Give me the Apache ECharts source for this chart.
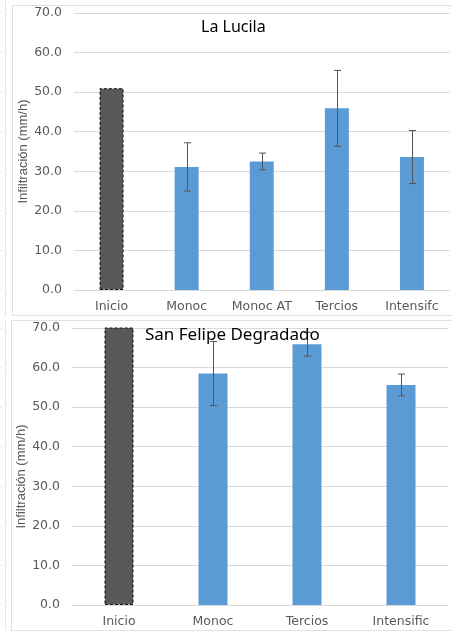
<!DOCTYPE html>
<html>
<head>
<meta charset="utf-8">
<script src="https://cdn.jsdelivr.net/npm/echarts@6/dist/echarts.min.js"></script>
<style>
  html, body { margin: 0; padding: 0; background: #fff; }
  #chart { width: 452px; height: 634px; }
</style>
</head>
<body>
<div id="chart"></div>
<script>
// La Lucila
const categoriesA = ['Inicio', 'Monoc', 'Monoc AT', 'Tercios', 'Intensifc'];
const valuesA = [51.0, 31.1, 32.5, 45.9, 33.6];
const errorsA = [null, 6.1, 2.1, 9.6, 6.7];

// San Felipe Degradado
const categoriesB = ['Inicio', 'Monoc', 'Tercios', 'Intensific'];
const valuesB = [75.0, 58.5, 65.9, 55.6];
const errorsB = [null, 8.1, 3.0, 2.75];

const yMin = 0, yMax = 70, yStep = 10;
const titles = ['La Lucila', 'San Felipe Degradado'];
const yName = 'Infiltración (mm/h)';

const BLUE = '#5B9BD5';
const DARK = '#595959';
const GRID = '#D9D9D9';
const TXT = '#595959';
const FONT = 'DejaVu Sans';

function barData(values) {
  return values.map((v, i) => i === 0
    ? { value: v, itemStyle: { color: DARK, borderColor: '#111', borderType: [3, 2], borderWidth: 1 } }
    : v);
}

function errData(values, errors) {
  const out = [];
  values.forEach((v, i) => {
    if (errors[i] != null) out.push([i, v - errors[i], v + errors[i]]);
  });
  return out;
}

function renderErr(params, api) {
  const x = api.value(0);
  const lo = api.coord([x, api.value(1)]);
  const hi = api.coord([x, api.value(2)]);
  const c = Math.round(lo[0]) + 0.5;
  const w = 3.5;
  const style = { stroke: '#555', lineWidth: 1 };
  return {
    type: 'group',
    children: [
      { type: 'line', shape: { x1: c, y1: hi[1], x2: c, y2: lo[1] }, style },
      { type: 'line', shape: { x1: c - w, y1: hi[1], x2: c + w, y2: hi[1] }, style },
      { type: 'line', shape: { x1: c - w, y1: lo[1], x2: c + w, y2: lo[1] }, style }
    ]
  };
}

function yAxis(gridIndex, padding) {
  return {
    gridIndex, type: 'value', min: yMin, max: yMax, interval: yStep,
    name: yName, nameLocation: 'middle', nameGap: 44, nameMoveOverlap: false,
    nameTextStyle: { fontFamily: 'Liberation Sans', fontSize: 13, color: TXT, padding },
    axisLine: { show: false }, axisTick: { show: false },
    axisLabel: { fontFamily: FONT, fontSize: 12.5, color: TXT, margin: 12,
      formatter: v => v.toFixed(1) },
    splitLine: { lineStyle: { color: GRID, width: 1 } }
  };
}

function xAxis(gridIndex, cats) {
  return {
    gridIndex, type: 'category', data: cats,
    axisLine: { lineStyle: { color: GRID } }, axisTick: { show: false },
    axisLabel: { fontFamily: FONT, fontSize: 12.5, color: TXT, margin: 10, interval: 0 }
  };
}

// neighbouring panel edge on the far left
const edgeMarks = [];
for (let k = 0; k <= 7; k++) {
  const yA = 290 - k * 39.57, yB = 605 - k * 39.53;
  edgeMarks.push({ type: 'line', shape: { x1: 0, y1: yA, x2: 2, y2: yA }, style: { stroke: '#E2E2E2', lineWidth: 1 } });
  edgeMarks.push({ type: 'line', shape: { x1: 0, y1: yB, x2: 2, y2: yB }, style: { stroke: '#E2E2E2', lineWidth: 1 } });
}

const chart = echarts.init(document.getElementById('chart'), null, { renderer: 'canvas' });
chart.setOption({
  animation: false,
  backgroundColor: '#fff',
  title: [
    { text: titles[0], left: 196, top: 14,
      textStyle: { fontFamily: 'Noto Sans', fontSize: 16, fontWeight: 'normal', color: '#000' } },
    { text: titles[1], left: 140, top: 322, z: 10,
      textStyle: { fontFamily: 'Noto Sans', fontSize: 17, fontWeight: 'normal', color: '#000' } }
  ],
  graphic: [
    { type: 'rect', shape: { x: 12.5, y: 5.5, width: 460, height: 310 }, style: { fill: 'none', stroke: '#E0E0E0', lineWidth: 1 }, z: -1 },
    { type: 'rect', shape: { x: 11.5, y: 320.5, width: 460, height: 310 }, style: { fill: 'none', stroke: '#E0E0E0', lineWidth: 1 }, z: -1 },
    { type: 'line', shape: { x1: 5.5, y1: 0, x2: 5.5, y2: 316 }, style: { stroke: '#E6E6E6', lineWidth: 1 }, z: -1 },
    { type: 'line', shape: { x1: 5.5, y1: 320, x2: 5.5, y2: 630 }, style: { stroke: '#E6E6E6', lineWidth: 1 }, z: -1 },
    ...edgeMarks.map(m => Object.assign({ z: -1 }, m))
  ],
  grid: [
    { left: 74, top: 13, width: 375.5, height: 277 },
    { left: 72, top: 328, width: 376, height: 277 }
  ],
  xAxis: [xAxis(0, categoriesA), xAxis(1, categoriesB)],
  yAxis: [yAxis(0, 0), yAxis(1, [0, 20, 0, 0])],
  series: [
    { type: 'bar', xAxisIndex: 0, yAxisIndex: 0, barWidth: 24,
      itemStyle: { color: BLUE }, data: barData(valuesA) },
    { type: 'custom', xAxisIndex: 0, yAxisIndex: 0, z: 5,
      renderItem: renderErr, data: errData(valuesA, errorsA) },
    { type: 'bar', xAxisIndex: 1, yAxisIndex: 1, barWidth: 29, clip: true,
      itemStyle: { color: BLUE }, data: barData(valuesB) },
    { type: 'custom', xAxisIndex: 1, yAxisIndex: 1, z: 5,
      renderItem: renderErr, data: errData(valuesB, errorsB) }
  ]
});
</script>
</body>
</html>
